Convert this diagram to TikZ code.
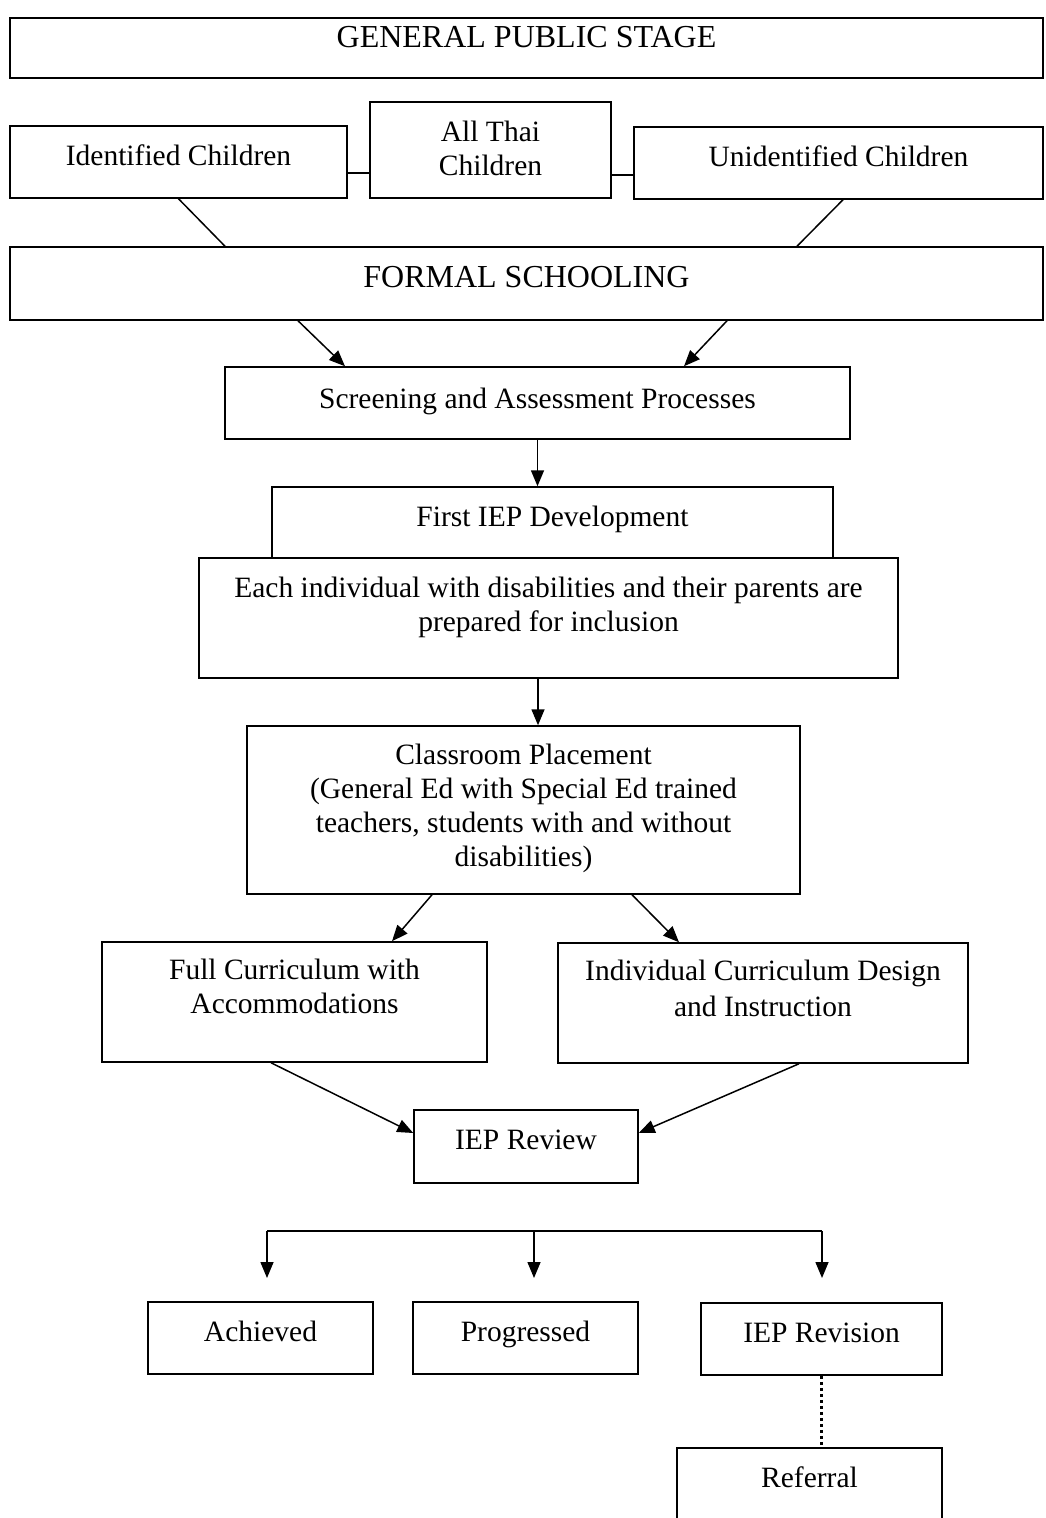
\documentclass[tikz,border=0pt]{standalone}
\usepackage{fontspec}
\setmainfont{Liberation Serif}
\usetikzlibrary{arrows.meta,positioning,calc}

\begin{document}
\begin{tikzpicture}[
    x=1pt, y=-1pt,
    >={Triangle[length=16pt,width=13pt]},
    line width=1.5pt,
    box/.style   = {draw, line width=1.5pt, inner sep=0pt, align=center,
                    text height=39pt, font=\fontsize{29.5}{34}\selectfont},
    capsbox/.style = {box, font=\fontsize{32}{36}\selectfont},
    link/.style  = {draw, line width=1.5pt},
    arr/.style   = {draw, line width=1.5pt, ->},
    dots/.style  = {draw, line width=2.4pt, dash pattern=on 3pt off 3pt},
  ]
  \useasboundingbox[fill=white] (0,0) rectangle (1046,1518);

  % --- Public stage ----------------------------------------------------
  \node[capsbox, minimum width=1033pt, text height=29pt, text depth=31pt]
    (public) at (526.5,48) {GENERAL PUBLIC STAGE};

  \node[box, minimum width=337pt, text depth=33pt] (ident) at (178.5,162)
    {Identified Children};
  \node[box, minimum width=241pt, text height=73pt, text depth=23pt]
    (allthai) at (490.5,150) {All Thai\\Children};
  \node[box, minimum width=409pt, text depth=33pt] (unident) at (838.5,163)
    {Unidentified Children};

  \draw[link] ([yshift=-11pt]ident.east) -- ([yshift=-11pt]ident.east -| allthai.west);
  \draw[link] ([yshift=-12pt]unident.west -| allthai.east) -- ([yshift=-12pt]unident.west);

  % --- Formal schooling ------------------------------------------------
  \node[capsbox, minimum width=1033pt, text height=40pt, text depth=33pt]
    (formal) at (526.5,283.5) {FORMAL SCHOOLING};

  \draw[link] (ident.south) -- (225,0 |- formal.north);
  \draw[link] (843,0 |- unident.south) -- (797,0 |- formal.north);

  \node[box, minimum width=625pt, text height=41pt, text depth=31pt]
    (screen) at (537.5,403) {Screening and Assessment Processes};

  \draw[arr] (298,0 |- formal.south) -- (345,0 |- screen.north);
  \draw[arr] (727,0 |- formal.south) -- (684,0 |- screen.north);

  % --- First IEP -------------------------------------------------------
  \node[box, minimum width=561pt, text depth=32pt] (firstiep) at (552.5,522.5)
    {First IEP Development};
  \node[box, minimum width=699pt, text height=73pt, text depth=47pt]
    (prepare) at (548.5,618)
    {Each individual with disabilities and their parents are\\prepared for inclusion};

  \draw[arr] (screen.south) -- (screen.south |- firstiep.north);

  % --- Placement -------------------------------------------------------
  \node[box, minimum width=553pt, text height=140pt, text depth=28pt]
    (placement) at (523.5,810)
    {Classroom Placement\\(General Ed with Special Ed trained\\teachers, students with and without\\disabilities)};

  \draw[arr] (538,0 |- prepare.south) -- (538,0 |- placement.north);

  \node[box, minimum width=385pt, text height=71pt, text depth=49pt]
    (fullcur) at (294.5,1002) {Full Curriculum with\\Accommodations};
  \node[box, minimum width=410pt, text height=73pt, text depth=47pt,
        font=\fontsize{29.5}{36}\selectfont]
    (indivcur) at (763,1003) {Individual Curriculum Design\\and Instruction};

  \draw[arr] (432,0 |- placement.south) -- (392,0 |- fullcur.north);
  \draw[arr] (632,0 |- placement.south) -- (679,0 |- indivcur.north);

  % --- Review ----------------------------------------------------------
  \node[box, minimum width=224pt, text depth=34pt] (review) at (526,1146.5)
    {IEP Review};

  \draw[arr] (271,0 |- fullcur.south) -- (review.west |- 0,1133);
  \draw[arr] (799,0 |- indivcur.south) -- (review.east |- 0,1133);

  % --- Outcomes --------------------------------------------------------
  \coordinate (forkL) at (267,1231);
  \coordinate (forkR) at (822,1231);
  \draw[link] (forkL) -- (forkR);
  \draw[arr] (forkL) -- ++(0,47);
  \draw[arr] (534,0 |- forkL) -- ++(0,47);
  \draw[arr] (forkR) -- ++(0,47);

  \node[box, minimum width=225pt, text depth=33pt] (achieved) at (260.5,1338)
    {Achieved};
  \node[box, minimum width=225pt, text depth=33pt] (progressed) at (525.5,1338)
    {Progressed};
  \node[box, minimum width=241pt, text depth=33pt] (revision) at (821.5,1339)
    {IEP Revision};
  \node[box, minimum width=265pt, text depth=43pt] (referral) at (809.5,1489)
    {Referral};

  \draw[dots] (revision.south) -- (revision.south |- referral.north);

\end{tikzpicture}
\end{document}
